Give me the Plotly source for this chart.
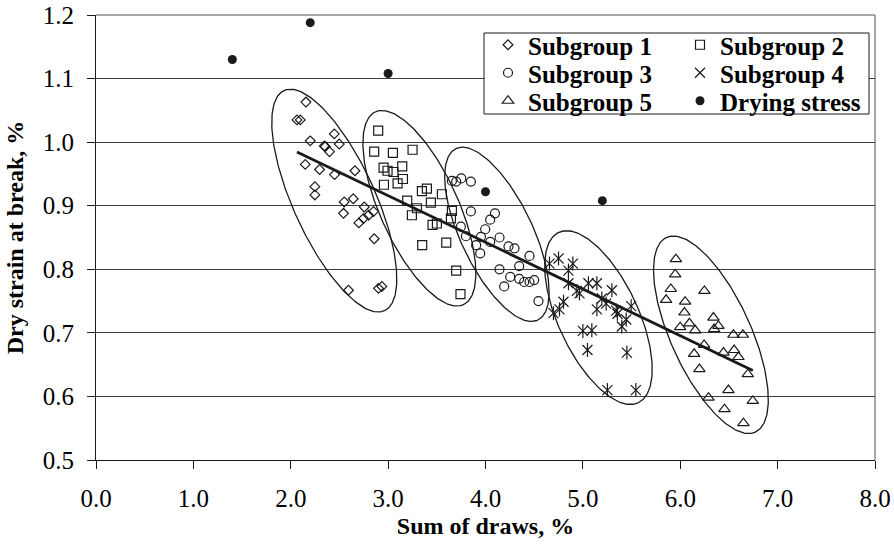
import numpy as np
import plotly.graph_objects as go

# ---------------- data ----------------
sub1_x = [2.156, 2.064, 2.098, 2.200, 2.344, 2.354, 2.398, 2.447, 2.498, 2.149, 2.296, 2.450, 2.659,
          2.248, 2.248, 2.549, 2.642, 2.542, 2.755, 2.850, 2.799, 2.747, 2.700, 2.857, 2.593, 2.901, 2.936]
sub1_y = [1.063, 1.035, 1.035, 1.002, 0.994, 0.993, 0.985, 1.013, 0.997, 0.965, 0.957, 0.949, 0.955,
          0.930, 0.917, 0.906, 0.911, 0.888, 0.898, 0.891, 0.885, 0.880, 0.873, 0.848, 0.767, 0.770, 0.773]

sub2_x = [2.898, 2.857, 3.049, 3.251, 2.953, 2.994, 3.055, 3.145, 3.152, 3.097, 2.957, 3.347, 3.398,
          3.196, 3.296, 3.244, 3.456, 3.501, 3.350, 3.439, 3.552, 3.655, 3.645, 3.597, 3.699, 3.743]
sub2_y = [1.018, 0.985, 0.983, 0.988, 0.960, 0.955, 0.953, 0.962, 0.942, 0.935, 0.933, 0.923, 0.927,
          0.908, 0.896, 0.885, 0.870, 0.872, 0.838, 0.905, 0.918, 0.892, 0.880, 0.842, 0.798, 0.761]

sub3_x = [3.655, 3.699, 3.751, 3.850, 3.850, 4.097, 4.048, 3.997, 3.747, 3.799, 3.953, 4.048, 4.144,
          3.904, 3.946, 4.236, 4.298, 4.452, 4.346, 4.144, 4.254, 4.346, 4.397, 4.452, 4.500, 4.192, 4.544]
sub3_y = [0.939, 0.938, 0.943, 0.938, 0.891, 0.888, 0.878, 0.863, 0.867, 0.852, 0.851, 0.843, 0.850,
          0.838, 0.825, 0.836, 0.833, 0.821, 0.805, 0.800, 0.788, 0.785, 0.780, 0.780, 0.783, 0.773, 0.750]

sub4_x = [4.657, 4.750, 4.897, 4.852, 4.852, 4.938, 4.965, 5.057, 5.144, 5.298, 5.195, 5.239, 5.144,
          5.342, 5.355, 5.496, 5.445, 5.400, 4.801, 4.760, 4.698, 5.000, 5.092, 5.047, 5.452, 5.252, 5.544]
sub4_y = [0.809, 0.817, 0.809, 0.798, 0.778, 0.766, 0.762, 0.778, 0.778, 0.767, 0.754, 0.746, 0.737,
          0.735, 0.730, 0.742, 0.721, 0.710, 0.749, 0.737, 0.731, 0.703, 0.704, 0.673, 0.669, 0.610, 0.610]

sub5_x = [5.955, 5.948, 5.903, 5.855, 6.050, 6.248, 6.043, 6.094, 5.999, 6.153, 6.341, 6.392, 6.348,
          6.546, 6.643, 6.245, 6.143, 6.444, 6.553, 6.598, 6.197, 6.694, 6.495, 6.290, 6.745, 6.454, 6.649]
sub5_y = [0.816, 0.792, 0.769, 0.752, 0.749, 0.766, 0.732, 0.715, 0.709, 0.704, 0.724, 0.711, 0.706,
          0.697, 0.697, 0.681, 0.667, 0.669, 0.673, 0.662, 0.643, 0.635, 0.610, 0.598, 0.593, 0.580, 0.558]

drying_x = [1.4, 2.2, 3.0, 4.0, 5.2]
drying_y = [1.130, 1.188, 1.108, 0.922, 0.908]

# linear trendline
trend_slope = -0.0734
trend_intercept = 1.136

# ellipses around subgroups: centre (data units)
ell_cx = [2.447, 3.321, 4.117, 5.160, 6.315]
ell_cy = [0.908, 0.896, 0.855, 0.724, 0.697]

# ---------------- geometry / style ----------------
W, H = 894, 550
ML, MR, MT, MB = 96, 19, 15, 90
PW, PH = W - ML - MR, H - MT - MB
XR = (0.0, 8.0)
YR = (0.5, 1.2)
XPX = PW / (XR[1] - XR[0])
YPX = PH / (YR[1] - YR[0])

ell_a = [121.0, 106.0, 95.0, 94.0, 107.0]   # semi-major, px
ell_b = [41.0, 39.0, 36.0, 40.0, 40.0]      # semi-minor, px
ell_t = [24.5, 24.5, 25.5, 25.0, 24.5]      # tilt from vertical, deg

FONT = "Liberation Serif"
INK = "#1a1a1a"

fig = go.Figure()

# ellipses
tt = np.linspace(0, 2 * np.pi, 240)
for cx, cy, a, b, th in zip(ell_cx, ell_cy, ell_a, ell_b, ell_t):
    r = np.radians(th)
    u = a * np.cos(tt)
    v = b * np.sin(tt)
    dx = u * np.sin(r) + v * np.cos(r)
    dy = u * np.cos(r) - v * np.sin(r)
    fig.add_trace(go.Scatter(x=cx + dx / XPX, y=cy - dy / YPX, mode="lines",
                             line=dict(color=INK, width=1.3), showlegend=False,
                             hoverinfo="skip"))

mk_line = dict(color=INK, width=1.2)
fig.add_trace(go.Scatter(x=sub1_x, y=sub1_y, mode="markers", name="Subgroup 1",
                         marker=dict(symbol="diamond-open", size=7.5, color=INK, line=mk_line),
                         legend="legend"))
fig.add_trace(go.Scatter(x=sub2_x, y=sub2_y, mode="markers", name="Subgroup 2",
                         marker=dict(symbol="square-open", size=9, color=INK, line=mk_line),
                         legend="legend2"))
fig.add_trace(go.Scatter(x=sub3_x, y=sub3_y, mode="markers", name="Subgroup 3",
                         marker=dict(symbol="circle-open", size=9, color=INK, line=mk_line),
                         legend="legend3"))
fig.add_trace(go.Scatter(x=sub4_x, y=sub4_y, mode="markers", name="Subgroup 4",
                         marker=dict(symbol="x-thin-open", size=10, color=INK, line=mk_line),
                         legend="legend4"))
fig.add_trace(go.Scatter(x=sub4_x, y=sub4_y, mode="markers", showlegend=False,
                         marker=dict(symbol="line-ns-open", size=10, color=INK, line=mk_line),
                         hoverinfo="skip"))
fig.add_trace(go.Scatter(x=sub5_x, y=sub5_y, mode="markers", name="Subgroup 5",
                         marker=dict(symbol="triangle-up-open", size=10, color=INK, line=mk_line),
                         legend="legend5"))
fig.add_trace(go.Scatter(x=drying_x, y=drying_y, mode="markers", name="Drying stress",
                         marker=dict(symbol="circle", size=9, color=INK),
                         legend="legend6"))

# trendline over all subgroup data
all_x = np.array(sub1_x + sub2_x + sub3_x + sub4_x + sub5_x)
tx = np.array([all_x.min(), all_x.max()])
fig.add_trace(go.Scatter(x=tx, y=trend_intercept + trend_slope * tx, mode="lines",
                         line=dict(color=INK, width=2.8), showlegend=False, hoverinfo="skip"))


def px2paper_x(px):
    return (px - ML) / PW


def px2paper_y(py):
    return (MT + PH - py) / PH


shapes = [
    # grey top & right frame
    dict(type="line", xref="paper", yref="paper", x0=0, x1=1, y0=1, y1=1,
         line=dict(color="#8a8a8a", width=1.5), layer="below"),
    dict(type="line", xref="paper", yref="paper", x0=1, x1=1, y0=0, y1=1,
         line=dict(color="#8a8a8a", width=1.5), layer="below"),
    # legend box
    dict(type="rect", xref="paper", yref="paper",
         x0=px2paper_x(484), x1=px2paper_x(869), y0=px2paper_y(114), y1=px2paper_y(33),
         fillcolor="white", line=dict(color=INK, width=1), layer="above"),
]

leg_font = dict(family=FONT, size=25, color="black", weight="bold")
col_px = [488, 680]
row_px = [45, 73, 101]
legends = {}
for i in range(6):
    key = "legend" if i == 0 else f"legend{i + 1}"
    legends[key] = dict(x=px2paper_x(col_px[i % 2]), y=px2paper_y(row_px[i // 2]),
                        xanchor="left", yanchor="middle", bgcolor="rgba(0,0,0,0)",
                        borderwidth=0, font=leg_font, itemwidth=30)

fig.update_layout(
    width=W, height=H,
    margin=dict(l=ML, r=MR, t=MT, b=MB, autoexpand=False),
    paper_bgcolor="white", plot_bgcolor="white",
    font=dict(family=FONT, color="black"),
    shapes=shapes,
    hovermode=False,
    **legends,
)

fig.update_xaxes(range=list(XR), tick0=0, dtick=1, tickformat=".1f",
                 ticks="outside", ticklen=8, tickcolor=INK, tickwidth=1,
                 showline=True, linecolor=INK, linewidth=1.2,
                 showgrid=False, zeroline=False,
                 tickfont=dict(family=FONT, size=25, color="black"),
                 ticklabelstandoff=8, ticklabeloverflow="allow", automargin=False,
                 title=dict(text="Sum of draws, %", standoff=6,
                            font=dict(family=FONT, size=24, color="black", weight="bold")))
fig.update_yaxes(range=list(YR), tick0=0.5, dtick=0.1, tickformat=".1f",
                 ticks="outside", ticklen=8, tickcolor=INK, tickwidth=1,
                 showline=True, linecolor=INK, linewidth=1.2,
                 showgrid=True, gridcolor="#3c3c3c", gridwidth=1, zeroline=False,
                 tickfont=dict(family=FONT, size=25, color="black"),
                 ticklabelstandoff=8, ticklabeloverflow="allow", automargin=False,
                 title=dict(text="Dry strain at break, %", standoff=12,
                            font=dict(family=FONT, size=24, color="black", weight="bold")))

# remove the browser's default 8px body margin so the figure fills the window
fig.write_html("out.html",
               config={"displayModeBar": False},
               post_script="document.body.style.margin='0';document.body.style.overflow='hidden';")
